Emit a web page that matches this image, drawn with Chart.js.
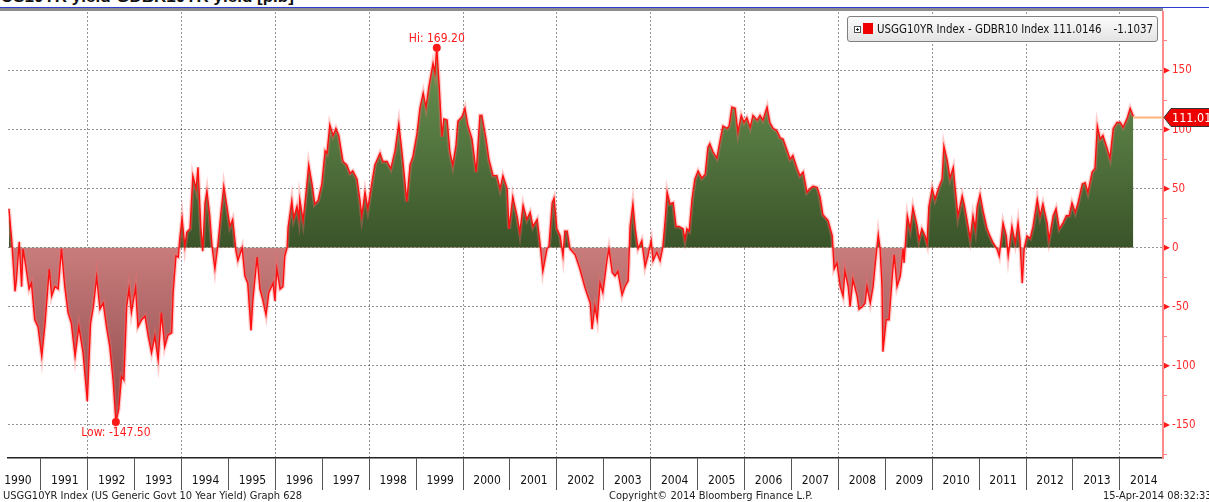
<!DOCTYPE html>
<html>
<head>
<meta charset="utf-8">
<script src="https://cdn.jsdelivr.net/npm/chart.js@4.4.1/dist/chart.umd.min.js"></script>
<style>
  html, body { margin: 0; padding: 0; background: #fff; }
  body { width: 1209px; height: 502px; overflow: hidden; position: relative;
         font-family: "DejaVu Sans Condensed", "DejaVu Sans", sans-serif; }
  #chart { position: absolute; left: 0; top: 0; }
  .title { position: absolute; left: 1px; top: -12px; font: bold 17px "Liberation Sans", Arial, sans-serif;
           line-height: 17px; color: #111; white-space: nowrap; }
  .bar-blue { position: absolute; left: 0; top: 7px; width: 1209px; height: 1px; background: #2b3cd0; }
  .bar-gray { position: absolute; left: 0; top: 8px; width: 1163px; height: 3px; background: #8c8c8c; }
  .legend { position: absolute; left: 847px; top: 16px; width: 311px; height: 26px; box-sizing: border-box;
            border: 1px solid #808080; border-radius: 3px;
            background: linear-gradient(#fbfbfb, #e4e4e4); font-size: 11.4px; color: #111; }
  .legend .plus { position: absolute; left: 6px; top: 9px; width: 5px; height: 5px; border: 1px solid #555;
                  background: linear-gradient(#222, #222) center / 3px 1px no-repeat,
                              linear-gradient(#222, #222) center / 1px 3px no-repeat, #fff; }
  .legend .swatch { position: absolute; left: 15px; top: 6px; width: 10px; height: 11px; background: #f00000; }
  .legend .name { position: absolute; left: 29px; top: 5px; white-space: nowrap; }
  .legend .chg { position: absolute; right: 4px; top: 5px; white-space: nowrap; }
  .foot { position: absolute; top: 489px; font-size: 11px; color: #222; white-space: nowrap; }
</style>
</head>
<body>
<div class="title">US10YR yield-GDBR10YR yield [p.b]</div>
<div class="bar-blue"></div>
<div class="bar-gray"></div>
<canvas id="chart" width="1209" height="502"></canvas>
<div class="legend"><span class="plus"></span><span class="swatch"></span><span class="name" id="legName"></span><span class="chg" id="legChg"></span></div>
<div class="foot" style="left:3px">USGG10YR Index (US Generic Govt 10 Year Yield) Graph 628</div>
<div class="foot" style="left:609px">Copyright&copy; 2014 Bloomberg Finance L.P.</div>
<div class="foot" style="left:1103px">15-Apr-2014 08:32:33</div>
<script>
// US 10y minus German 10y spread, basis points (dates as decimal years)
const dates = [
  1990.32, 1990.38, 1990.45, 1990.48, 1990.54, 1990.59, 1990.62, 1990.68, 1990.75, 1990.80,
  1990.87, 1990.94, 1991.02, 1991.09, 1991.18, 1991.23, 1991.30, 1991.37, 1991.44, 1991.51,
  1991.58, 1991.65, 1991.73, 1991.81, 1991.90, 1991.99, 1992.06, 1992.12, 1992.19, 1992.26,
  1992.33, 1992.40, 1992.47, 1992.54, 1992.60, 1992.66, 1992.72, 1992.77, 1992.83, 1992.88,
  1992.93, 1993.02, 1993.07, 1993.15, 1993.22, 1993.29, 1993.36, 1993.43, 1993.50, 1993.57,
  1993.64, 1993.71, 1993.79, 1993.82, 1993.88, 1993.93,
  1993.96, 1994.01, 1994.07, 1994.11, 1994.18, 1994.24, 1994.31, 1994.35, 1994.41, 1994.45,
  1994.50, 1994.54, 1994.60, 1994.65, 1994.71, 1994.77, 1994.84, 1994.90, 1994.97, 1995.03,
  1995.09, 1995.16, 1995.20, 1995.29, 1995.35, 1995.41, 1995.48, 1995.52, 1995.61, 1995.67,
  1995.73, 1995.80, 1995.86, 1995.95, 1995.99, 1996.03, 1996.10, 1996.16, 1996.20, 1996.25,
  1996.27, 1996.35, 1996.39, 1996.46, 1996.50,
  1996.52, 1996.59, 1996.67, 1996.71, 1996.78, 1996.84, 1996.91, 1996.99, 1997.06, 1997.10,
  1997.16, 1997.23, 1997.29, 1997.35, 1997.44, 1997.52, 1997.59, 1997.65, 1997.74, 1997.80,
  1997.84, 1997.91, 1997.97, 1998.06, 1998.12, 1998.23, 1998.29, 1998.38, 1998.46, 1998.55,
  1998.63, 1998.70, 1998.76, 1998.80, 1998.87, 1998.93, 1999.02, 1999.08, 1999.15, 1999.21,
  1999.27, 1999.36, 1999.40, 1999.44, 1999.49, 1999.55, 1999.59, 1999.66, 1999.72, 1999.78,
  1999.85, 1999.89, 1999.98, 2000.04, 2000.10, 2000.19, 2000.28, 2000.36, 2000.40, 2000.49,
  2000.55, 2000.64, 2000.72, 2000.79, 2000.85, 2000.94, 2000.98, 2001.06, 2001.15, 2001.21,
  2001.28, 2001.36,
  2001.43, 2001.49, 2001.58, 2001.64, 2001.70, 2001.79, 2001.83, 2001.90, 2001.94, 2002.00,
  2002.07, 2002.13, 2002.17, 2002.22, 2002.28, 2002.39, 2002.49, 2002.60, 2002.71, 2002.75,
  2002.81, 2002.86, 2002.92, 2002.98, 2003.07, 2003.11, 2003.18, 2003.24, 2003.30, 2003.39,
  2003.45, 2003.52, 2003.56, 2003.62, 2003.67, 2003.73, 2003.81, 2003.88, 2003.94, 2004.01,
  2004.05, 2004.13, 2004.20, 2004.26, 2004.31, 2004.35, 2004.41, 2004.48, 2004.54, 2004.60,
  2004.69, 2004.73, 2004.77, 2004.82, 2004.88, 2004.94, 2005.01, 2005.09, 2005.16, 2005.22,
  2005.26, 2005.33, 2005.41, 2005.48, 2005.54, 2005.63, 2005.67, 2005.73, 2005.80, 2005.86,
  2005.93, 2005.99, 2006.05, 2006.12, 2006.18, 2006.27, 2006.33, 2006.39, 2006.48, 2006.54,
  2006.61, 2006.69, 2006.76, 2006.82, 2006.91, 2006.97, 2007.03, 2007.12, 2007.18, 2007.25,
  2007.33, 2007.40, 2007.46, 2007.55,
  2007.61, 2007.67, 2007.78, 2007.87, 2007.91, 2007.97, 2008.04, 2008.10, 2008.14, 2008.21,
  2008.25, 2008.31, 2008.40, 2008.44, 2008.51, 2008.57, 2008.61, 2008.68, 2008.74, 2008.78,
  2008.85, 2008.89, 2008.93, 2008.95, 2009.02, 2009.08, 2009.15, 2009.19, 2009.25, 2009.32,
  2009.38, 2009.40, 2009.47, 2009.53, 2009.59, 2009.68, 2009.72, 2009.78, 2009.85, 2009.89,
  2009.93, 2010.00, 2010.06, 2010.13, 2010.21, 2010.25, 2010.32, 2010.38, 2010.45, 2010.49,
  2010.55, 2010.64, 2010.68, 2010.74, 2010.81, 2010.87, 2010.92, 2010.96, 2011.02, 2011.09,
  2011.17, 2011.23, 2011.30, 2011.38, 2011.43, 2011.51, 2011.58, 2011.62, 2011.70, 2011.77,
  2011.83, 2011.87, 2011.92, 2011.96, 2012.02, 2012.09, 2012.15, 2012.24, 2012.30, 2012.36,
  2012.45, 2012.49, 2012.58, 2012.64, 2012.71, 2012.79, 2012.86, 2012.92, 2012.98, 2013.05,
  2013.11, 2013.20, 2013.26, 2013.32, 2013.41, 2013.47, 2013.52, 2013.58, 2013.64, 2013.73,
  2013.79, 2013.86, 2013.94, 2014.01, 2014.07, 2014.16, 2014.22, 2014.29
];
const spread = [
  33, 6, -37, -27, 5, -33, -1, -16, -35, -30,
  -61, -67, -92, -64, -18, -41, -33, -35, -1, -33,
  -55, -64, -92, -67, -89, -130, -64, -50, -25, -52,
  -47, -67, -84, -112, -147.5, -137, -109, -112, -50, -35,
  -55, -34, -67, -61, -58, -75, -89, -75, -95, -55,
  -84, -74, -72, -38, -7, -8,
  7, 25, 1, 13, 16, 61, 50, 68, 18, -3,
  38, 48, 27, 1, -18, 1, 30, 52, 34, 18,
  24, -3, -11, 0, -24, -30, -70, -44, -8, -35,
  -44, -57, -38, -30, -45, -18, -35, -33, -7, 0,
  17, 40, 25, 35, 25,
  41, 23, 53, 70, 54, 37, 40, 54, 82, 80,
  104, 95, 101, 95, 73, 70, 63, 65, 58, 41,
  27, 47, 33, 56, 70, 80, 73, 73, 67, 82,
  105, 80, 56, 39, 70, 77, 97, 118, 131, 119,
  136, 156, 148, 169.2, 138, 94, 109, 108, 81, 70,
  87, 107, 111, 118, 104, 92, 64, 112, 112, 92,
  75, 61, 61, 50, 61, 50, 16, 43, 27, 13,
  36, 24,
  30, 18, 24, 4, -20, -1, 1, 38, 42, 16,
  10, -7, 14, 14, -1, -6, -18, -34, -47, -69,
  -50, -61, -30, -38, -10, -1, -21, -24, -20, -40,
  -33, -28, 18, 37, 16, -1, 6, -16, -7, 6,
  -11, -4, -11, 1, 24, 47, 37, 38, 18, 18,
  16, 7, 16, 14, 41, 58, 65, 59, 62, 85,
  88, 81, 76, 91, 103, 101, 103, 119, 118, 98,
  112, 106, 110, 102, 112, 108, 112, 108, 119, 106,
  101, 99, 93, 92, 82, 75, 78, 67, 61, 64,
  47, 50, 52, 51,
  43, 28, 23, 10, -18, -13, -33, -41, -20, -33,
  -50, -27, -41, -52, -50, -47, -33, -47, -33, -16,
  11, -1, -33, -88, -61, -61, -24, -6, -33, -24,
  -1, -13, 27, 16, 34, 18, 7, 16, 10, 4,
  35, 50, 41, 50, 58, 86, 74, 59, 68, 50,
  27, 44, 37, 24, 8, 27, 16, 35, 45, 30,
  16, 10, 4, -1, -7, 21, 10, -7, 18, 4,
  21, 7, -30, -1, 10, 8, 18, 41, 27, 37,
  21, 7, 27, 33, 16, 21, 27, 27, 38, 30,
  38, 54, 55, 47, 64, 67, 103, 92, 95, 84,
  76, 101, 106, 106, 102, 110, 118, 111.0146
];
const yearLabels = ['1990', '1991', '1992', '1993', '1994', '1995', '1996', '1997', '1998', '1999',
  '2000', '2001', '2002', '2003', '2004', '2005', '2006', '2007', '2008', '2009',
  '2010', '2011', '2012', '2013', '2014'];
const gridYears = [1992, 1994, 1996, 1998, 2000, 2002, 2004, 2006, 2008, 2010, 2012, 2014];
const yLabelValues = [-150, -100, -50, 0, 50, 100, 150];
const seriesName = 'USGG10YR Index - GDBR10 Index';
const lastChange = -1.1037;

const xMin = 1990.30, xMax = 2014.92;
const yMin = -178, yMax = 199.5;
const FONT = '"DejaVu Sans Condensed", "DejaVu Sans", sans-serif';

Chart.defaults.font.family = FONT;

const last = spread.length - 1;
document.getElementById('legName').textContent = seriesName + ' ' + spread[last].toFixed(4);
document.getElementById('legChg').textContent = lastChange.toFixed(4);

const points = dates.map((d, i) => ({ x: d, y: spread[i] }));

// hi/low markers, last value tag, red triangles on the value axis
const overlay = {
  id: 'overlay',
  afterDraw(chart) {
    const { ctx, chartArea, scales: { x, y } } = chart;
    ctx.save();
    ctx.font = '12px ' + FONT;
    ctx.fillStyle = '#ff1a1a';
    ctx.textAlign = 'center';
    const hi = Math.max(...spread), lo = Math.min(...spread);
    [[spread.indexOf(hi), 'Hi: ' + hi.toFixed(2), -1, 3], [spread.indexOf(lo), 'Low: ' + lo.toFixed(2), 1, 5]]
      .forEach(([i, txt, dir, gap]) => {
        const px = x.getPixelForValue(dates[i]), py = y.getPixelForValue(spread[i]);
        ctx.beginPath();
        ctx.arc(px, py, 4, 0, Math.PI * 2);
        ctx.fill();
        ctx.textBaseline = dir < 0 ? 'bottom' : 'top';
        ctx.fillText(txt, px, py + dir * gap);
      });

    // triangles at labelled ticks
    y.ticks.forEach(t => {
      if (!yLabelValues.includes(t.value)) return;
      const p = y.getPixelForValue(t.value);
      ctx.beginPath();
      ctx.moveTo(chartArea.right + 1, p - 3);
      ctx.lineTo(chartArea.right + 7, p);
      ctx.lineTo(chartArea.right + 1, p + 3);
      ctx.closePath();
      ctx.fill();
    });

    // last value line and tag
    const lx = x.getPixelForValue(dates[last]);
    const ly = Math.round(y.getPixelForValue(spread[last])) + 0.5;
    ctx.strokeStyle = '#ffb27a';
    ctx.lineWidth = 2;
    ctx.beginPath();
    ctx.moveTo(lx, ly);
    ctx.lineTo(chartArea.right, ly);
    ctx.stroke();
    const tx = chartArea.right + 1;
    ctx.beginPath();
    ctx.moveTo(tx, ly);
    ctx.lineTo(tx + 7, ly - 9);
    ctx.lineTo(chart.width + 5, ly - 9);
    ctx.lineTo(chart.width + 5, ly + 9);
    ctx.lineTo(tx + 7, ly + 9);
    ctx.closePath();
    ctx.fillStyle = '#ee0000';
    ctx.fill();
    ctx.strokeStyle = '#333';
    ctx.lineWidth = 1;
    ctx.stroke();
    ctx.fillStyle = '#fff';
    ctx.font = '12.5px ' + FONT;
    ctx.textAlign = 'left';
    ctx.textBaseline = 'middle';
    ctx.fillText(spread[last].toFixed(4), tx + 8, ly + 1);
    ctx.restore();
  }
};

const chart = new Chart(document.getElementById('chart'), {
  type: 'line',
  data: {
    datasets: [{
      data: points,
      xAxisID: 'x', yAxisID: 'y',
      borderColor: '#ff1010',
      borderWidth: 1.4,
      pointRadius: 0,
      tension: 0,
      fill: 'origin',
      backgroundColor: '#55773f',
      order: 0
    }, {
      data: points,
      xAxisID: 'x', yAxisID: 'y',
      borderColor: 'rgba(255, 110, 110, 0.35)',
      borderWidth: 4,
      pointRadius: 0,
      tension: 0,
      fill: false,
      order: 1
    }]
  },
  options: {
    responsive: false,
    animation: false,
    devicePixelRatio: 1,
    layout: { padding: { left: 8, top: 12, right: 0, bottom: 10 } },
    plugins: {
      legend: { display: false },
      tooltip: { enabled: false },
      filler: { drawTime: 'beforeDatasetsDraw' }
    },
    scales: {
      x: {
        type: 'linear', position: 'bottom', min: xMin, max: xMax,
        afterBuildTicks: s => { s.ticks = yearLabels.map(v => ({ value: +v })); },
        afterFit: s => { s.paddingLeft = 0; s.paddingRight = 0; s.height = 34; },
        ticks: {
          autoSkip: false, maxRotation: 0, labelOffset: 24, padding: -16,
          color: '#111', font: { size: 12 },
          callback: v => String(v)
        },
        grid: { drawOnChartArea: false, tickLength: 32, tickColor: '#555', tickWidth: 1 },
        border: { color: '#222', width: 1.5 }
      },
      x2: {
        type: 'linear', position: 'bottom', min: xMin, max: xMax, z: 1,
        afterBuildTicks: s => { s.ticks = gridYears.map(v => ({ value: v })); },
        afterFit: s => { s.paddingLeft = 0; s.paddingRight = 0; s.height = 0; },
        ticks: { display: false },
        grid: { drawTicks: false, color: 'rgba(0,0,0,0.42)', lineWidth: 1 },
        border: { display: false, dash: [2, 2] }
      },
      y: {
        position: 'right', min: yMin, max: yMax, z: 1,
        afterFit: s => { s.width = 46; },
        ticks: {
          stepSize: 25, includeBounds: false, padding: 5,
          color: '#ff2a2a', font: { size: 11.5 },
          callback: v => yLabelValues.includes(v) ? String(v) : ''
        },
        grid: {
          color: c => (c.tick && yLabelValues.includes(c.tick.value)) ? 'rgba(0,0,0,0.42)' : 'rgba(0,0,0,0)',
          tickColor: '#ff8080', tickLength: 4, lineWidth: 1
        },
        border: { color: '#ff8c8c', width: 2, dash: [2, 2] }
      }
    }
  },
  plugins: [overlay]
});

// gradient fills above / below zero, built from the laid-out scale
(function paintFills() {
  const { ctx, chartArea, scales: { y } } = chart;
  const zero = y.getPixelForValue(0);
  const up = ctx.createLinearGradient(0, chartArea.top, 0, zero);
  up.addColorStop(0, '#74a05b');
  up.addColorStop(1, '#3a5429');
  const down = ctx.createLinearGradient(0, zero, 0, chartArea.bottom);
  down.addColorStop(0, '#c97c7c');
  down.addColorStop(1, '#7f3e3e');
  chart.data.datasets[0].fill = { target: 'origin', above: up, below: down };
  chart.update('none');
})();
</script>
</body>
</html>
